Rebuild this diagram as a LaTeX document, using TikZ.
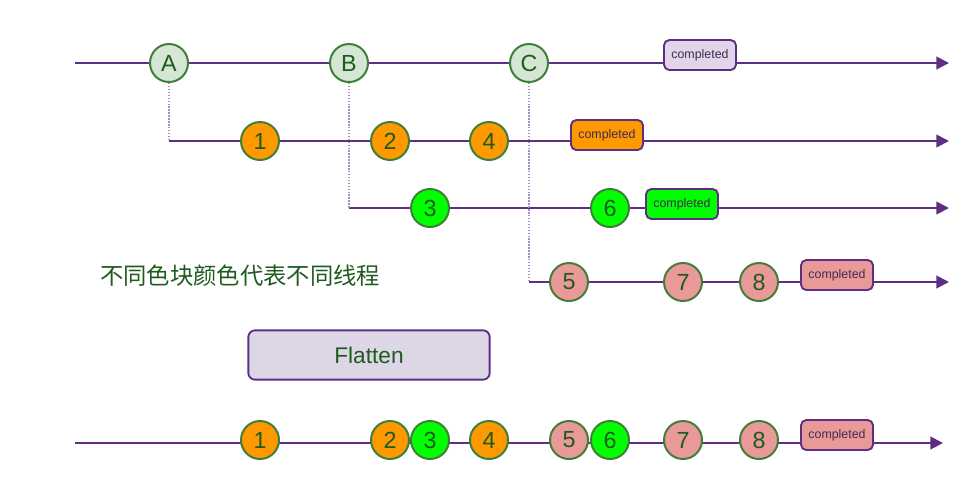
\documentclass[tikz,border=0pt]{standalone}
\usepackage{fontspec}
\setmainfont{Liberation Sans}
\newfontfamily\cjk{Noto Sans CJK SC}
\usetikzlibrary{arrows.meta}
\definecolor{linec}{HTML}{5E2D84}
\definecolor{dotc}{HTML}{A68BC2}
\definecolor{cstroke}{HTML}{3F7F3A}
\definecolor{tcol}{HTML}{1F5A1F}
\definecolor{abcfill}{HTML}{D5E6D5}
\definecolor{orangef}{HTML}{FF9900}
\definecolor{greenf}{HTML}{00FF00}
\definecolor{pinkf}{HTML}{EA9999}
\definecolor{lavf}{HTML}{E1D5E7}
\definecolor{flatf}{HTML}{DDD6E6}
\definecolor{donetext}{HTML}{3F2A55}
\tikzset{
  tl/.style={draw=linec, line width=1.5pt},
  tla/.style={tl, -{Triangle[length=9.5pt,width=9.5pt]}},
  dotl/.style={draw=dotc, line width=1.6pt, dash pattern=on 1.1pt off 1.1pt},
  ev/.style={circle, draw=cstroke, line width=1.5pt, minimum size=28.5pt, inner sep=0pt,
     font=\fontsize{17.5}{17.5}\selectfont, text=tcol},
  done/.style={rectangle, rounded corners=4pt, draw=linec, line width=1.4pt,
     minimum width=54pt, minimum height=22.5pt, inner sep=0pt,
     font=\fontsize{9.3}{9.3}\selectfont, text=donetext},
  flatbox/.style={rectangle, rounded corners=5pt, draw=linec, line width=1.4pt, fill=flatf,
     minimum width=181pt, minimum height=37pt, inner sep=0pt,
     font=\fontsize{17}{17}\selectfont, text=tcol}
}
\begin{document}
\begin{tikzpicture}[x=0.75pt,y=-0.75pt]
\useasboundingbox (0,0) rectangle (974,480);
% timelines
\coordinate (s1) at (75,63);   \coordinate (e1) at (949,63);
\coordinate (s2) at (169,141); \coordinate (e2) at (949,141);
\coordinate (s3) at (349,208); \coordinate (e3) at (949,208);
\coordinate (s4) at (529,282); \coordinate (e4) at (949,282);
\coordinate (s5) at (75,443);  \coordinate (e5) at (943,443);
\draw[tla] (s1) -- (e1);
\draw[tla] (s2) -- (e2);
\draw[tla] (s3) -- (e3);
\draw[tla] (s4) -- (e4);
\draw[tla] (s5) -- (e5);
% top events
\node[ev, fill=abcfill] (A) at (169,63) {A};
\node[ev, fill=abcfill] (B) at (349,63) {B};
\node[ev, fill=abcfill] (C) at (529,63) {C};
\node[done, fill=lavf] (d1) at (700,55) {completed};
\draw[dotl] (A.south) -- (s2);
\draw[dotl] (B.south) -- (s3);
\draw[dotl] (C.south) -- (s4);
% row 2
\node[ev, fill=orangef] (r1) at (260,141) {1};
\node[ev, fill=orangef] (r2) at (390,141) {2};
\node[ev, fill=orangef] (r4) at (489,141) {4};
\node[done, fill=orangef] (d2) at (607,135) {completed};
% row 3
\node[ev, fill=greenf] (g3) at (430,208) {3};
\node[ev, fill=greenf] (g6) at (610,208) {6};
\node[done, fill=greenf] (d3) at (682,204) {completed};
% row 4
\node[ev, fill=pinkf] (p5) at (569,282) {5};
\node[ev, fill=pinkf] (p7) at (683,282) {7};
\node[ev, fill=pinkf] (p8) at (759,282) {8};
\node[done, fill=pinkf] (d4) at (837,275) {completed};
% caption
\node[font=\cjk\fontsize{17.5}{17.5}\selectfont, text=tcol] (cap) at (240,276) {不同色块颜色代表不同线程};
\node[flatbox] (flat) at (369,355) {Flatten};
% merged
\node[ev, fill=orangef] (m1) at (260,440) {1};
\node[ev, fill=orangef] (m2) at (390,440) {2};
\node[ev, fill=greenf]  (m3) at (430,440) {3};
\node[ev, fill=orangef] (m4) at (489,440) {4};
\node[ev, fill=pinkf]   (m5) at (569,440) {5};
\node[ev, fill=greenf]  (m6) at (610,440) {6};
\node[ev, fill=pinkf]   (m7) at (683,440) {7};
\node[ev, fill=pinkf]   (m8) at (759,440) {8};
\node[done, fill=pinkf] (d5) at (837,435) {completed};
\end{tikzpicture}
\end{document}
